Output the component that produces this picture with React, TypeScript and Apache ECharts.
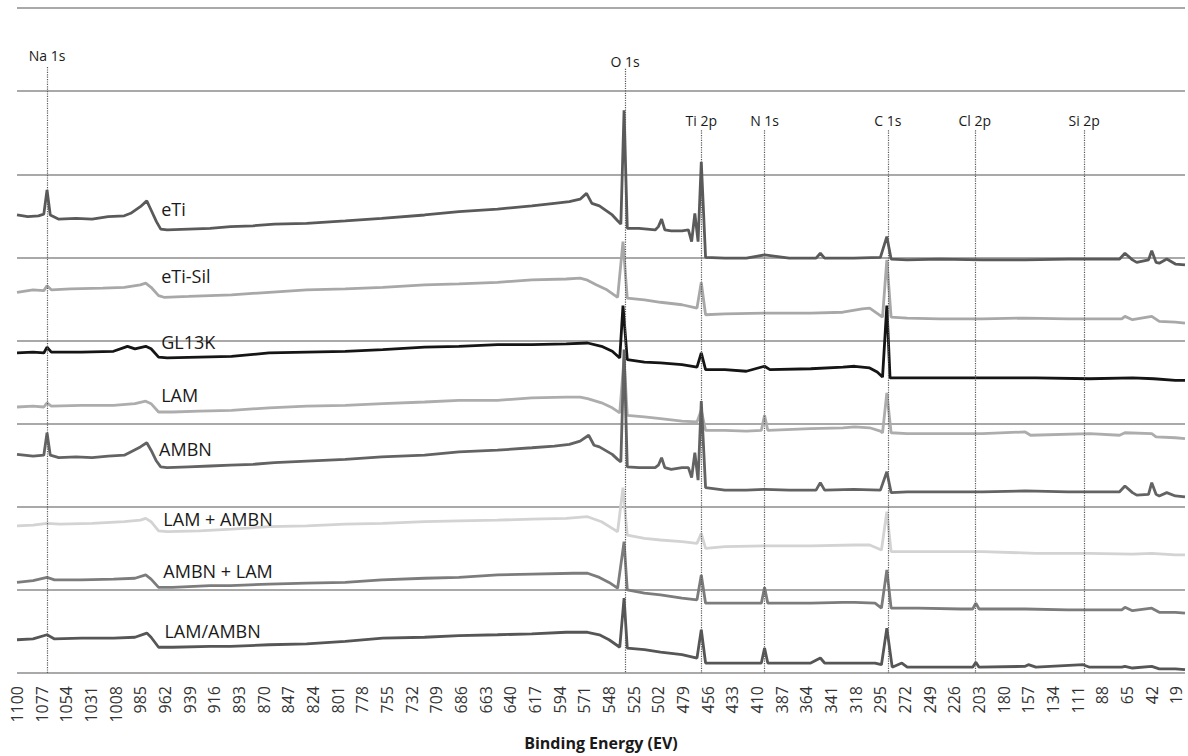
import React, { useEffect, useRef } from "react";
import * as echarts from "echarts";

// Binding energy tick labels (eV), shown every 23 eV
const tickLabels = [1100, 1077, 1054, 1031, 1008, 985, 962, 939, 916, 893, 870, 847, 824, 801, 778, 755, 732, 709, 686, 663, 640, 617, 594, 571, 548, 525, 502, 479, 456, 433, 410, 387, 364, 341, 318, 295, 272, 249, 226, 203, 180, 157, 134, 111, 88, 65, 42, 19];

// Peak assignments: [label, binding energy, top of the dotted marker (offset intensity units)]
const peakNames = ["Na 1s", "O 1s", "Ti 2p", "N 1s", "C 1s", "Cl 2p", "Si 2p"];
const peakEnergies = [1072, 533, 462, 403, 288, 207, 105];
const peakTops = [7.29, 7.27, 6.53, 6.53, 6.53, 6.53, 6.53];

const seriesNames = ["eTi", "eTi-Sil", "GL13K", "LAM", "AMBN", "LAM + AMBN", "AMBN + LAM", "LAM/AMBN"];
const seriesColors = ["#5a5a5a", "#a8a8a8", "#151515", "#adadad", "#636363", "#d3d3d3", "#7c7c7c", "#565656"];
// label anchor positions [energy, offset intensity]
const labelAnchors = [[966, 5.58], [966, 4.77], [966, 3.98], [966, 3.34], [968, 2.70], [964, 1.85], [964, 1.23], [963, 0.51]];

// Spectra: [binding energy (eV), offset intensity (a.u.)]
const eTi = [[1100,5.51],[1090,5.49],[1080,5.50],[1075,5.52],[1072,5.81],[1069,5.51],[1061,5.46],[1045,5.47],[1030,5.46],[1015,5.49],[1000,5.50],[994,5.53],[985,5.61],[979,5.68],[975,5.57],[970,5.43],[966,5.34],[960,5.33],[940,5.34],[920,5.35],[901,5.37],[880,5.38],[860,5.40],[830,5.41],[794,5.44],[760,5.47],[720,5.51],[688,5.55],[652,5.58],[620,5.62],[599,5.65],[585,5.67],[575,5.70],[569,5.77],[564,5.65],[557,5.62],[545,5.51],[540,5.44],[537,5.40],[534,6.77],[531,5.35],[520,5.35],[505,5.33],[502,5.37],[499,5.46],[496,5.33],[490,5.32],[480,5.32],[474,5.33],[471,5.19],[468,5.53],[465,5.19],[462,6.15],[458,5.00],[440,4.99],[420,4.99],[403,5.03],[380,4.99],[355,4.99],[351,5.05],[347,4.99],[320,4.99],[295,5.00],[289,5.25],[285,4.98],[270,4.97],[240,4.98],[200,4.97],[160,4.97],[120,4.98],[72,4.98],[67,5.05],[60,4.97],[56,4.94],[45,4.97],[42,5.08],[38,4.94],[35,4.93],[28,4.98],[20,4.92],[11,4.91]];
const eTiSil = [[1100,4.58],[1085,4.61],[1075,4.60],[1072,4.66],[1068,4.61],[1050,4.62],[1020,4.63],[1000,4.64],[985,4.67],[980,4.69],[975,4.64],[968,4.54],[963,4.52],[940,4.53],[900,4.55],[865,4.58],[830,4.61],[794,4.62],[759,4.64],[720,4.67],[688,4.68],[652,4.70],[620,4.73],[588,4.74],[575,4.75],[569,4.73],[560,4.67],[550,4.61],[540,4.52],[535,5.19],[531,4.51],[515,4.49],[500,4.46],[480,4.43],[466,4.39],[462,4.70],[458,4.31],[440,4.32],[403,4.33],[360,4.33],[330,4.34],[312,4.38],[305,4.39],[293,4.28],[289,4.97],[285,4.28],[270,4.27],[240,4.26],[200,4.26],[160,4.27],[120,4.26],[70,4.26],[67,4.29],[60,4.25],[42,4.29],[35,4.23],[20,4.22],[11,4.21]];
const gl13k = [[1100,3.85],[1085,3.86],[1075,3.85],[1072,3.92],[1068,3.86],[1040,3.86],[1010,3.87],[997,3.93],[990,3.90],[980,3.93],[975,3.90],[968,3.80],[960,3.79],[930,3.80],[900,3.81],[865,3.85],[830,3.86],[794,3.87],[759,3.89],[720,3.92],[688,3.93],[652,3.95],[620,3.95],[588,3.96],[568,3.97],[555,3.93],[545,3.87],[538,3.79],[535,4.42],[531,3.77],[515,3.74],[500,3.73],[480,3.71],[466,3.68],[462,3.85],[458,3.65],[440,3.65],[420,3.63],[403,3.69],[398,3.65],[360,3.66],[330,3.68],[319,3.69],[305,3.67],[298,3.62],[293,3.56],[289,4.42],[286,3.55],[270,3.55],[200,3.55],[150,3.55],[100,3.54],[60,3.55],[40,3.54],[20,3.52],[11,3.52]];
const lam = [[1100,3.20],[1085,3.21],[1075,3.20],[1072,3.25],[1068,3.21],[1040,3.22],[1010,3.22],[990,3.24],[980,3.27],[975,3.24],[968,3.14],[955,3.14],[930,3.15],[900,3.16],[865,3.19],[830,3.21],[794,3.22],[759,3.24],[720,3.26],[688,3.28],[652,3.28],[620,3.31],[588,3.32],[575,3.32],[568,3.30],[555,3.25],[545,3.19],[538,3.13],[534,3.79],[531,3.10],[515,3.08],[500,3.06],[480,3.03],[466,3.02],[462,3.16],[458,2.92],[440,2.92],[420,2.91],[406,2.92],[403,3.10],[400,2.92],[360,2.94],[330,2.95],[319,2.96],[305,2.95],[295,2.91],[293,2.89],[289,3.37],[285,2.89],[270,2.88],[200,2.88],[160,2.90],[155,2.86],[100,2.88],[72,2.86],[67,2.89],[42,2.88],[38,2.84],[20,2.83],[11,2.82]];
const ambn = [[1100,2.63],[1085,2.61],[1075,2.62],[1072,2.89],[1069,2.62],[1061,2.59],[1045,2.60],[1030,2.59],[1015,2.61],[1000,2.62],[994,2.66],[985,2.72],[979,2.77],[975,2.68],[970,2.55],[966,2.48],[960,2.47],[940,2.48],[920,2.49],[901,2.50],[880,2.51],[860,2.53],[830,2.55],[794,2.57],[760,2.60],[720,2.62],[688,2.66],[652,2.68],[620,2.71],[599,2.73],[585,2.75],[575,2.79],[567,2.86],[562,2.74],[557,2.72],[545,2.63],[540,2.57],[537,2.54],[534,3.89],[531,2.48],[520,2.47],[505,2.47],[502,2.50],[499,2.59],[496,2.47],[490,2.45],[480,2.47],[474,2.47],[471,2.35],[468,2.65],[465,2.32],[462,3.27],[458,2.23],[440,2.20],[420,2.20],[403,2.21],[380,2.20],[355,2.20],[351,2.29],[347,2.20],[320,2.21],[295,2.20],[289,2.42],[285,2.17],[270,2.18],[240,2.18],[200,2.18],[160,2.19],[120,2.18],[72,2.18],[67,2.25],[60,2.17],[56,2.14],[45,2.15],[42,2.29],[38,2.15],[35,2.13],[28,2.17],[20,2.13],[11,2.12]];
const lamPlusAmbn = [[1100,1.77],[1085,1.78],[1072,1.80],[1060,1.79],[1030,1.80],[1000,1.82],[985,1.84],[980,1.86],[975,1.82],[968,1.71],[960,1.70],[930,1.71],[900,1.73],[865,1.76],[830,1.77],[794,1.79],[759,1.80],[720,1.82],[688,1.83],[652,1.84],[620,1.85],[588,1.86],[568,1.88],[555,1.82],[545,1.74],[540,1.70],[535,2.23],[531,1.66],[515,1.62],[500,1.60],[480,1.58],[466,1.56],[462,1.68],[458,1.50],[440,1.52],[403,1.53],[360,1.53],[319,1.54],[305,1.54],[294,1.48],[289,1.94],[285,1.46],[250,1.46],[200,1.46],[150,1.44],[100,1.44],[60,1.43],[42,1.44],[20,1.42],[11,1.42]];
const ambnPlusLam = [[1100,1.09],[1085,1.11],[1072,1.15],[1065,1.12],[1040,1.12],[1010,1.13],[990,1.14],[980,1.18],[975,1.13],[968,1.03],[955,1.03],[920,1.05],[901,1.05],[865,1.07],[830,1.08],[794,1.09],[760,1.12],[720,1.14],[688,1.15],[652,1.18],[620,1.19],[581,1.20],[568,1.20],[557,1.15],[548,1.09],[540,1.02],[534,1.58],[531,1.00],[515,0.96],[500,0.94],[480,0.90],[466,0.88],[462,1.18],[458,0.84],[440,0.84],[420,0.84],[406,0.84],[403,1.03],[400,0.84],[360,0.84],[330,0.85],[319,0.85],[300,0.84],[294,0.78],[289,1.24],[285,0.78],[260,0.78],[220,0.77],[209,0.77],[206,0.84],[203,0.77],[160,0.77],[120,0.76],[70,0.76],[67,0.79],[60,0.75],[42,0.78],[35,0.73],[20,0.73],[11,0.72]];
const lamSlashAmbn = [[1100,0.40],[1085,0.41],[1072,0.46],[1065,0.41],[1040,0.42],[1010,0.42],[990,0.43],[979,0.48],[975,0.43],[968,0.31],[955,0.31],[920,0.32],[901,0.32],[865,0.34],[830,0.35],[794,0.38],[759,0.42],[720,0.43],[688,0.45],[652,0.46],[620,0.47],[588,0.49],[568,0.49],[557,0.46],[548,0.40],[538,0.31],[534,0.90],[531,0.30],[515,0.28],[500,0.25],[480,0.22],[466,0.18],[462,0.52],[458,0.12],[440,0.12],[420,0.12],[406,0.12],[403,0.30],[400,0.12],[360,0.12],[351,0.18],[347,0.12],[320,0.12],[300,0.12],[294,0.10],[289,0.54],[284,0.07],[275,0.12],[270,0.07],[220,0.07],[209,0.07],[206,0.13],[203,0.07],[160,0.08],[157,0.10],[150,0.07],[106,0.10],[100,0.07],[70,0.07],[67,0.08],[60,0.06],[42,0.08],[35,0.05],[20,0.05],[11,0.04]];

const spectra = [eTi, eTiSil, gl13k, lam, ambn, lamPlusAmbn, ambnPlusLam, lamSlashAmbn];

const FONT = "'Open Sans', 'Noto Sans', sans-serif";

export default function App() {
  const ref = useRef<HTMLDivElement>(null);

  useEffect(() => {
    if (!ref.current) return;
    const chart = echarts.init(ref.current, undefined, { renderer: "svg" });

    const labelDistances = [5, 0, 3, 3, 3, 3, 3];

    const lineSeries = spectra.map((data, i) => ({
      type: "line",
      name: seriesNames[i],
      data,
      showSymbol: false,
      symbol: "none",
      smooth: false,
      lineStyle: { color: seriesColors[i], width: 2.8 },
      itemStyle: { color: seriesColors[i] },
      z: 3,
      markPoint: {
        silent: true,
        symbol: "circle",
        symbolSize: 1,
        itemStyle: { color: "rgba(0,0,0,0)" },
        label: {
          show: true,
          position: "right",
          distance: 0,
          formatter: seriesNames[i],
          fontSize: 18,
          fontFamily: FONT,
          color: "#1a1a1a",
        },
        data: [{ coord: labelAnchors[i], name: seriesNames[i] }],
      },
    }));

    const peakSeries = {
      type: "line",
      name: "peaks",
      data: [],
      silent: true,
      z: 2,
      markLine: {
        silent: true,
        symbol: ["none", "none"],
        lineStyle: { type: "dotted", color: "#5a5a5a", width: 1.2 },
        data: peakNames.map((n, i) => [
          {
            coord: [peakEnergies[i], peakTops[i]],
            name: n,
            label: {
              show: true,
              position: "start",
              distance: labelDistances[i],
              formatter: n,
              fontSize: 14,
              fontFamily: FONT,
              color: "#1a1a1a",
            },
          },
          { coord: [peakEnergies[i], 0] },
        ]),
      },
    };

    chart.setOption({
      animation: false,
      backgroundColor: "#ffffff",
      textStyle: { fontFamily: FONT },
      grid: { left: 17, right: 3, top: 8, bottom: 83 },
      xAxis: {
        type: "value",
        inverse: true,
        min: 11,
        max: 1100,
        name: "Binding Energy (EV)",
        nameLocation: "middle",
        nameGap: 62,
        nameTextStyle: { fontSize: 16, fontWeight: "bold", color: "#1a1a1a", fontFamily: FONT },
        axisLine: { show: false },
        axisTick: { show: false },
        splitLine: { show: false },
        axisLabel: {
          customValues: tickLabels,
          formatter: (v: number) => String(v),
          rotate: 90,
          fontSize: 16,
          lineHeight: 14,
          margin: 13,
          color: "#333333",
          fontFamily: FONT,
        },
      },
      yAxis: {
        type: "value",
        min: 0,
        max: 8,
        interval: 1,
        axisLabel: { show: false },
        axisLine: { show: false },
        axisTick: { show: false },
        splitLine: { show: true, lineStyle: { color: "#8c8c8c", width: 1.5 } },
      },
      series: [peakSeries, ...lineSeries],
    });

    return () => chart.dispose();
  }, []);

  return (
    <div
      ref={ref}
      style={{ position: "fixed", left: 0, top: 0, width: 1188, height: 756, background: "#fff" }}
    />
  );
}
